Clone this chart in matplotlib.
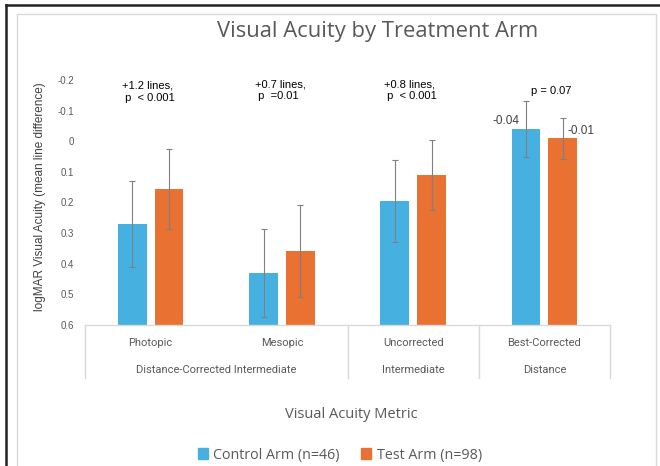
import matplotlib
matplotlib.use("Agg")
import matplotlib.pyplot as plt
from matplotlib.lines import Line2D
from matplotlib.patches import Rectangle, Patch
import numpy as np

# Data
categories = ["Photopic", "Mesopic", "Uncorrected", "Best-Corrected"]
groups = ["Distance-Corrected Intermediate", "Intermediate", "Distance"]
group_spans = [(0, 1), (2, 2), (3, 3)]
control = [0.27, 0.43, 0.195, -0.04]
test = [0.155, 0.357, 0.11, -0.01]
control_err = [0.14, 0.143, 0.133, 0.09]
test_err = [0.13, 0.15, 0.115, 0.067]
annotations = ["+1.2 lines,\n p  < 0.001", "+0.7 lines,\n p  =0.01",
               "+0.8 lines,\n p  < 0.001", "p = 0.07"]
yticks = [-0.2, -0.1, 0, 0.1, 0.2, 0.3, 0.4, 0.5, 0.6]
ytick_labels = ["-0.2", "-0.1", "0", "0.1", "0.2", "0.3", "0.4", "0.5", "0.6"]
series_names = ["Control Arm (n=46)", "Test Arm (n=98)"]

BLUE = "#46B1E1"
ORANGE = "#E97132"
GRAY_TXT = "#595959"
BASE = 0.6

W, H = 660, 466
fig = plt.figure(figsize=(W / 100, H / 100), dpi=100)

def px(x0, y0, x1, y1):
    return [x0 / W, 1 - y1 / H, (x1 - x0) / W, (y1 - y0) / H]

# Frame lines around the chart
fig.add_artist(Line2D([6 / W, 1], [1 - 5 / H, 1 - 5 / H], color="#222222", lw=1.8))
fig.add_artist(Line2D([6 / W, 6 / W], [0, 1 - 5 / H], color="#222222", lw=1.8))
fig.add_artist(Rectangle((17 / W, -0.1), (656 - 17) / W, 1.1 - 14 / H,
                         fill=False, edgecolor="#d9d9d9", lw=1.0))

ax = fig.add_axes(px(85, 80, 610, 325))
x = np.arange(len(categories))
off, bw = 0.14, 0.22

err_style = dict(ecolor="#808080", elinewidth=0.8, capsize=2.5, capthick=0.8)
ax.bar(x - off, np.array(control) - BASE, bottom=BASE, width=bw, color=BLUE,
       yerr=control_err, error_kw=err_style)
ax.bar(x + off, np.array(test) - BASE, bottom=BASE, width=bw, color=ORANGE,
       yerr=test_err, error_kw=err_style)

ax.set_xlim(-0.5, len(categories) - 0.5)
ax.set_ylim(0.6, -0.2)
ax.set_yticks(yticks)
ax.set_yticklabels(ytick_labels, fontsize=7, color=GRAY_TXT, family="Liberation Sans")
ax.tick_params(axis="y", length=0, pad=8)
ax.set_xticks([])
for s in ax.spines.values():
    s.set_visible(False)

# Value labels on the last group
ax.text(x[3] - off - 0.15, control[3] - 0.005, f"{control[3]:.2f}", ha="center", va="bottom",
        fontsize=8.5, color="#404040", family="Liberation Sans")
ax.text(x[3] + off + 0.14, test[3] - 0.005, f"{test[3]:.2f}", ha="center", va="bottom",
        fontsize=8.5, color="#404040", family="Liberation Sans")

# Significance notes
ann_pos = [(-0.02, -0.198), (-0.01, -0.203), (-0.02, -0.203), (0.05, -0.18)]
for i, t in enumerate(annotations):
    dx, yy = ann_pos[i]
    ax.text(x[i] + dx, yy, t, ha="center", va="top", fontsize=8, color="black",
            family="Liberation Sans", linespacing=1.25, multialignment="left")

# Two-level category axis
trans = ax.get_xaxis_transform()
line_kw = dict(color="#d9d9d9", lw=1.0, transform=trans, clip_on=False)
ax.add_line(Line2D([-0.5, 3.5], [0, 0], **line_kw))
for xb in [-0.5, 1.5, 2.5, 3.5]:
    ax.add_line(Line2D([xb, xb], [0, -0.215], **line_kw))
cat_font = dict(fontsize=8, color=GRAY_TXT, family="Roboto", transform=trans, ha="center", va="center")
for i, c in enumerate(categories):
    ax.text(x[i], -0.073, c, **cat_font)
for g, (a, b) in zip(groups, group_spans):
    ax.text((a + b) / 2, -0.184, g, **cat_font)

# Titles
fig.text(378 / W, 1 - 32 / H, "Visual Acuity by Treatment Arm", ha="center", va="center",
         fontsize=15.8, color=GRAY_TXT, family="Open Sans")
fig.text(40 / W, 1 - 197 / H, "logMAR Visual Acuity (mean line difference)", rotation=90,
         ha="center", va="center", fontsize=8.5, color="#404040", family="Liberation Sans")
fig.text(351 / W, 1 - 415 / H, "Visual Acuity Metric", ha="center", va="center",
         fontsize=10.5, color=GRAY_TXT, family="Open Sans")

handles = [Patch(color=BLUE), Patch(color=ORANGE)]
fig.legend(handles, series_names, loc="center", bbox_to_anchor=(340 / W, 1 - 455 / H),
           ncol=2, frameon=False, handlelength=0.7, handleheight=0.7, handletextpad=0.4,
           columnspacing=1.5, prop=dict(family="Open Sans", size=10.3), labelcolor=GRAY_TXT)

fig.savefig("out.png", dpi=100)
